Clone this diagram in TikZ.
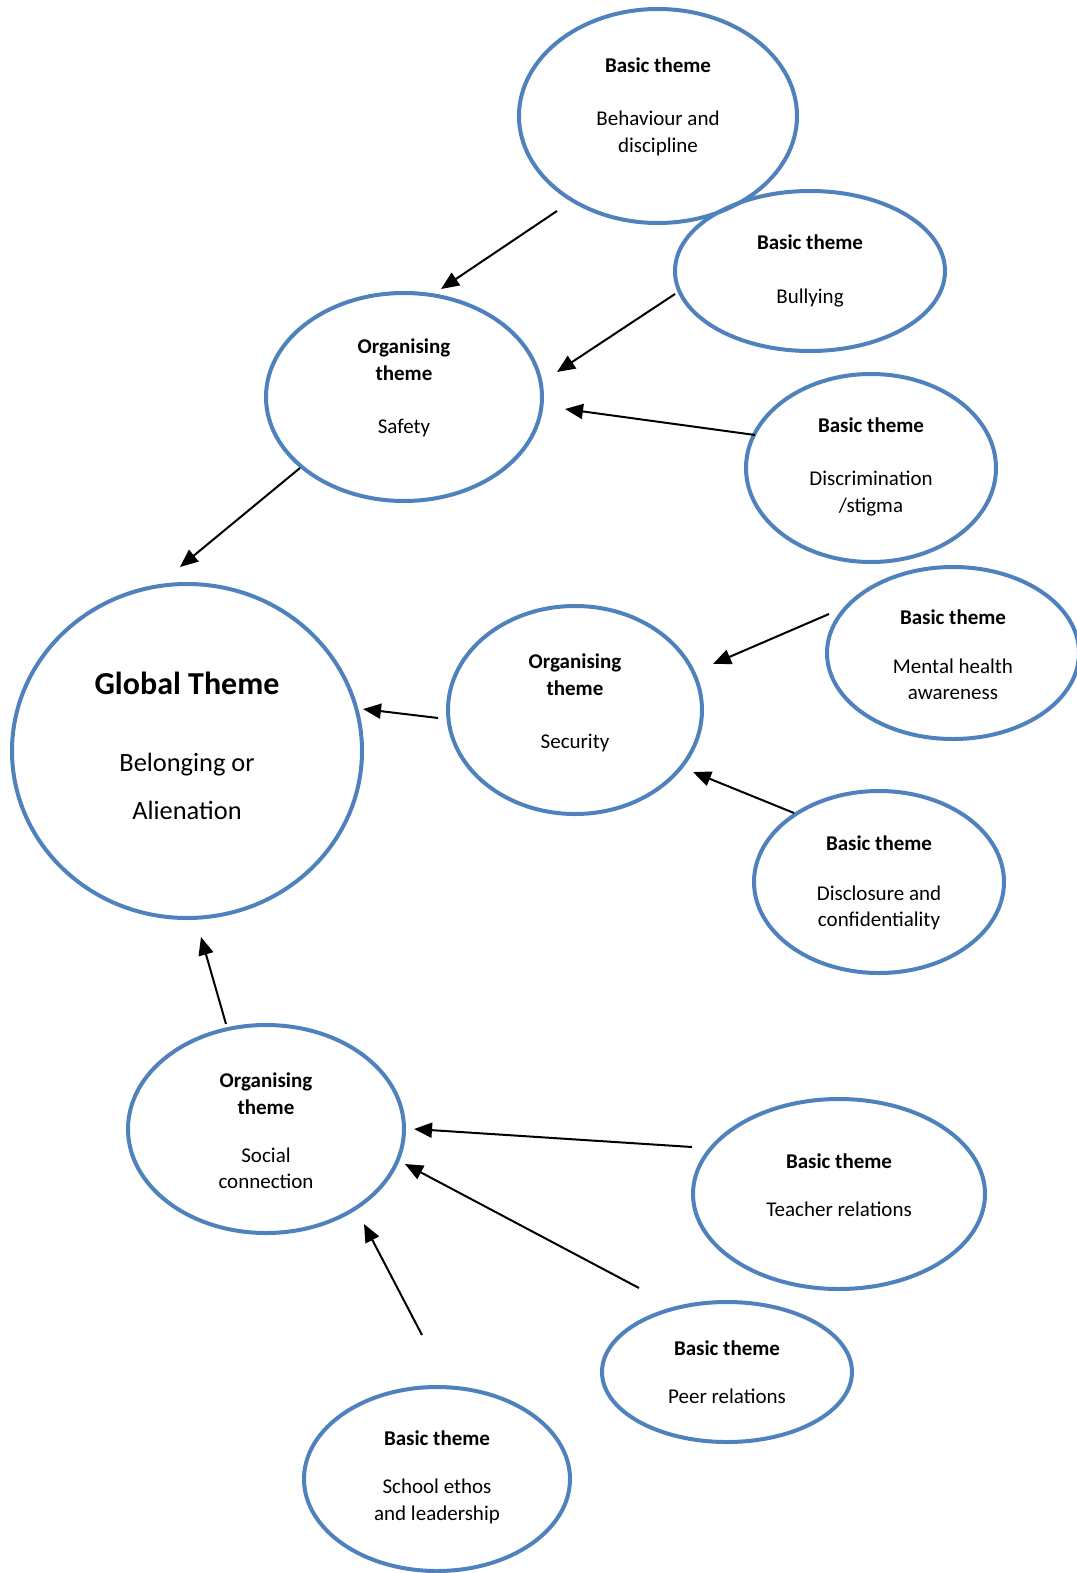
\documentclass[tikz,border=0pt]{standalone}
\usepackage{fontspec}
\setmainfont{Carlito}
\usetikzlibrary{arrows.meta,shapes.geometric}
\definecolor{officeblue}{RGB}{79,129,189}
\begin{document}
\begin{tikzpicture}[x=0.5pt,y=-0.5pt,
  ell/.style={ellipse,draw=officeblue,line width=2pt,inner sep=0pt},
  txt/.style={align=center,font=\fontsize{10.5}{13.3}\selectfont,inner sep=0pt},
  arr/.style={line width=1pt,-{Triangle[length=9pt,width=7.5pt]}}]
\useasboundingbox (0,0) rectangle (1076,1573);
% ellipses
\node[ell,minimum width=139pt,minimum height=107pt] (beh) at (658,116) {};
\node[ell,minimum width=135pt,minimum height=80pt] (bul) at (810,271) {};
\node[ell,minimum width=138pt,minimum height=104pt] (saf) at (404,397) {};
\node[ell,minimum width=125pt,minimum height=94pt] (dis) at (871,468) {};
\node[ell,minimum width=175pt,minimum height=167pt] (glo) at (187,751) {};
\node[ell,minimum width=127pt,minimum height=104pt] (sec) at (575,710) {};
\node[ell,minimum width=126pt,minimum height=86pt] (men) at (953,653) {};
\node[ell,minimum width=125pt,minimum height=91pt] (dcl) at (879,882) {};
\node[ell,minimum width=138pt,minimum height=104pt] (soc) at (266,1129) {};
\node[ell,minimum width=146pt,minimum height=95pt] (tea) at (839,1194) {};
\node[ell,minimum width=125pt,minimum height=70pt] (pee) at (727,1372) {};
\node[ell,minimum width=133pt,minimum height=92pt] (sch) at (437,1479) {};
% texts
\node[txt] (beht) at (658,107) {\textbf{Basic theme}\\[13.3pt]Behaviour and\\discipline};
\node[txt] (bult) at (810,271) {\textbf{Basic theme}\\[13.3pt]Bullying};
\node[txt] (saft) at (404,388) {\textbf{Organising}\\\textbf{theme}\\[13.3pt]Safety};
\node[txt] (dist) at (871,467) {\textbf{Basic theme}\\[13.3pt]Discrimination\\/stigma};
\node[align=center,inner sep=0pt,font=\fontsize{13.2}{24}\selectfont] (glot) at (187,746)
  {{\fontsize{16}{19}\selectfont\textbf{Global Theme}}\\[14.5pt]Belonging or\\Alienation};
\node[txt] (sect) at (575,703) {\textbf{Organising}\\\textbf{theme}\\[13.3pt]Security};
\node[txt] (ment) at (953,655) {\textbf{Basic theme}\\[11pt]Mental health\\awareness};
\node[txt] (dclt) at (879,883) {\textbf{Basic theme}\\[11.5pt]Disclosure and\\confidentiality};
\node[txt] (soct) at (266,1131) {\textbf{Organising}\\\textbf{theme}\\[10.5pt]Social\\connection};
\node[txt] (teat) at (839,1185) {\textbf{Basic theme}\\[11pt]Teacher relations};
\node[txt] (peet) at (727,1372) {\textbf{Basic theme}\\[10.5pt]Peer relations};
\node[txt] (scht) at (437,1477) {\textbf{Basic theme}\\[11pt]School ethos\\and leadership};
% arrow end points
\coordinate (a1s) at (557,211); \coordinate (a1e) at (441,289);
\coordinate (a2s) at (675,294); \coordinate (a2e) at (557,372);
\coordinate (a3s) at (755,435); \coordinate (a3e) at (565,409);
\coordinate (a4s) at (300,468); \coordinate (a4e) at (180,567);
\coordinate (a5s) at (829,614); \coordinate (a5e) at (713,664);
\coordinate (a6s) at (794,813); \coordinate (a6e) at (693,772);
\coordinate (a7s) at (438,718); \coordinate (a7e) at (363,709);
\coordinate (a8s) at (226,1024); \coordinate (a8e) at (201,937);
\coordinate (a9s) at (692,1147); \coordinate (a9e) at (414,1129);
\coordinate (a10s) at (639,1288); \coordinate (a10e) at (405,1164);
\coordinate (a11s) at (422,1335); \coordinate (a11e) at (364,1224);
\foreach \i in {1,...,11} \draw[arr] (a\i s) -- (a\i e);
\end{tikzpicture}
\end{document}
